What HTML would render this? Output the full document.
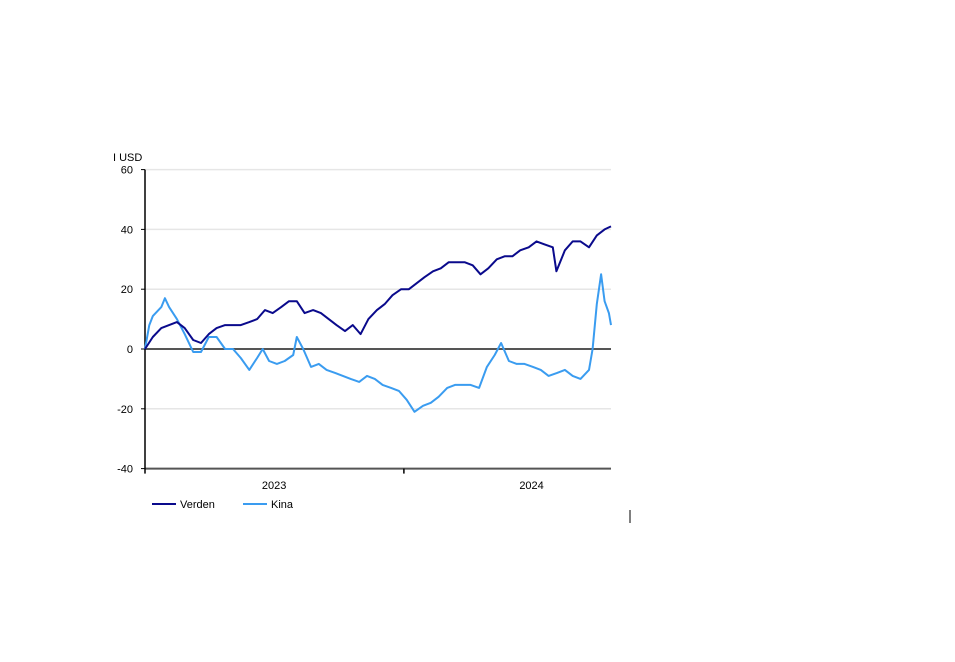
<!DOCTYPE html>
<html><head><meta charset="utf-8"><style>
body{margin:0;background:#fff;}
svg{display:block;font-family:"Liberation Sans",Arial,sans-serif;}
</style></head><body>
<svg id="chart" width="955" height="662" viewBox="0 0 955 662">
<g id="grid"></g><g id="axes"></g><g id="series"></g>
<text x="113" y="161" font-size="11" fill="#000">I USD</text>
<g>
<line x1="152" y1="504" x2="176" y2="504" stroke="#0a0a8c" stroke-width="2"/>
<text x="180" y="508" font-size="11">Verden</text>
<line x1="243" y1="504" x2="267" y2="504" stroke="#3a9cf0" stroke-width="2"/>
<text x="271" y="508" font-size="11">Kina</text>
</g>
<line x1="630" y1="510" x2="630" y2="523" stroke="#000" stroke-width="1"/>
</svg>
<script>
const yTicks=[60,40,20,0,-20,-40];
const yearLabels=["2023","2024"];
const yearDays=[182,545];
const verdenDays=[0,11,23,34,45,56,68,79,90,101,113,124,135,147,158,169,180,192,203,214,225,237,248,259,270,282,293,304,315,327,338,349,361,372,383,394,406,417,428,439,451,462,473,484,496,507,518,529,541,552,563,575,580,592,603,614,626,637,648,657];
const verdenValues=[0,4,7,8,9,7,3,2,5,7,8,8,8,9,10,13,12,14,16,16,12,13,12,10,8,6,8,5,10,13,15,18,20,20,22,24,26,27,29,29,29,28,25,27,30,31,31,33,34,36,35,34,26,33,36,36,34,38,40,41];
const kinaDays=[0,6,11,23,28,34,45,56,68,79,90,101,113,124,135,147,158,166,175,186,197,209,214,223,234,245,256,268,279,290,302,313,324,335,347,358,369,380,392,403,414,426,437,448,459,471,482,493,502,513,524,535,547,558,569,581,592,603,614,626,631,637,643,648,654,657];
const kinaValues=[0,8,11,14,17,14,10,5,-1,-1,4,4,0,0,-3,-7,-3,0,-4,-5,-4,-2,4,0,-6,-5,-7,-8,-9,-10,-11,-9,-10,-12,-13,-14,-17,-21,-19,-18,-16,-13,-12,-12,-12,-13,-6,-2,2,-4,-5,-5,-6,-7,-9,-8,-7,-9,-10,-7,0,15,25,16,12,8];
const NS="http://www.w3.org/2000/svg";
const X0=145,X1=611,D1=657;
const xs=d=>X0+(X1-X0)*d/D1;
const ys=v=>349-v*2.99;
function mk(t,a,p){const e=document.createElementNS(NS,t);for(const k in a)e.setAttribute(k,a[k]);p.appendChild(e);return e;}
const grid=document.getElementById('grid'),axes=document.getElementById('axes'),ser=document.getElementById('series');
yTicks.forEach(v=>{
  if(v!==0&&v!==-40){const g=mk('line',{x1:X0,x2:X1,y1:ys(v),y2:ys(v),stroke:'#e6e6e6','stroke-width':1.5},grid);
  
  }
  const t=mk('line',{x1:X0-4,x2:X0,y1:ys(v),y2:ys(v),stroke:'#000'},axes);
  
  
  const l=mk('text',{x:X0-12,y:ys(v)+4,'font-size':11,'text-anchor':'end'},axes);l.textContent=v;
  
  
});
let z=mk('line',{x1:X0,x2:X1,y1:ys(0),y2:ys(0),stroke:'#555','stroke-width':2},axes);


let xa=mk('line',{x1:X0,x2:X1,y1:ys(-40),y2:ys(-40),stroke:'#555','stroke-width':2},axes);


let ya=mk('line',{x1:X0,x2:X0,y1:ys(60),y2:ys(-40),stroke:'#000','stroke-width':1.5},axes);


[0,365].forEach(d=>{const t=mk('line',{x1:xs(d),x2:xs(d),y1:ys(-40),y2:ys(-40)+5,stroke:'#000','stroke-width':1.5},axes);

});
yearLabels.forEach((s,i)=>{const l=mk('text',{x:xs(yearDays[i]),y:489,'font-size':11,'text-anchor':'middle'},axes);l.textContent=s;

});
function line(days,vals,col,name){
  const d=days.map((dd,i)=>(i?'L':'M')+xs(dd).toFixed(1)+' '+ys(vals[i]).toFixed(1)).join(' ');
  const p=mk('path',{d:d,fill:'none',stroke:col,'stroke-width':2,'stroke-linejoin':'round'},ser);
  
  
}
line(kinaDays,kinaValues,'#3a9cf0','series-kina');
line(verdenDays,verdenValues,'#0a0a8c','series-verden');
</script>
</body></html>
